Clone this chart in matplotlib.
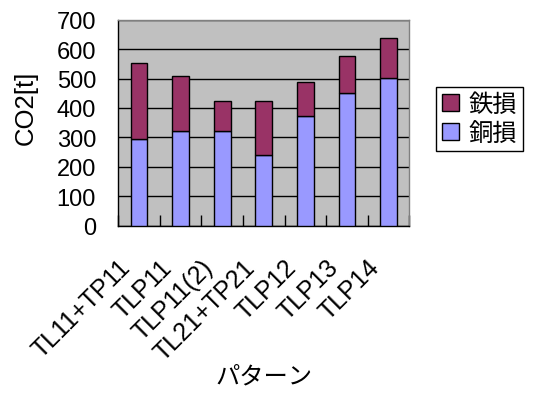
import matplotlib
matplotlib.use("Agg")
import matplotlib.pyplot as plt
import matplotlib.transforms as mtransforms
import numpy as np

plt.rcParams['font.family'] = ['Liberation Sans', 'Noto Sans CJK JP']

categories = ["TL11+TP11", "TLP11", "TLP11(2)", "TL21+TP21", "TLP12", "TLP13", "TLP14"]
copper_loss = [295, 323, 323, 239, 372, 450, 503]   # 銅損
iron_loss = [257, 187, 100, 184, 117, 126, 135]      # 鉄損
yticks = [0, 100, 200, 300, 400, 500, 600, 700]

fig = plt.figure(figsize=(5.39, 4.06), dpi=100)
ax = fig.add_axes([0.2195, 0.4416, 0.5399, 0.5074])
ax.set_facecolor('#C0C0C0')

x = np.arange(len(categories))
ax.bar(x, copper_loss, width=0.4, color='#9999FF', edgecolor='black', linewidth=1.0,
       label='銅損', zorder=3)
ax.bar(x, iron_loss, width=0.4, bottom=copper_loss, color='#993366', edgecolor='black',
       linewidth=1.0, label='鉄損', zorder=3)

ax.set_xlim(-0.5, len(categories) - 0.5)
ax.set_ylim(0, 700)
ax.set_yticks(yticks)
ax.set_yticklabels([str(v) for v in yticks], fontsize=17)
ax.yaxis.grid(True, color='black', linewidth=1.0, zorder=1)
ax.set_axisbelow(True)

# category ticks at boundaries between bars
ax.set_xticks(np.arange(len(categories) + 1) - 0.5, minor=False)
ax.tick_params(axis='x', which='major', direction='in', length=8, width=1, labelbottom=False)
ax.set_xticks(x, minor=True)
ax.set_xticklabels(categories, minor=True, rotation=45, ha='right', va='top',
                   rotation_mode='anchor', fontsize=18)
ax.tick_params(axis='x', which='minor', length=0, pad=21)
offset = mtransforms.ScaledTranslation(-21 / 100, 0, fig.dpi_scale_trans)
for lbl in ax.get_xticklabels(minor=True):
    lbl.set_transform(lbl.get_transform() + offset)

ax.tick_params(axis='y', direction='in', length=0, pad=16)

for side in ['top', 'right']:
    ax.spines[side].set_color('#808080')
    ax.spines[side].set_linewidth(1.0)
for side in ['left', 'bottom']:
    ax.spines[side].set_color('black')
    ax.spines[side].set_linewidth(1.0)

fig.text(26 / 539, 1 - 108 / 406, 'CO2[t]', rotation=90, ha='center', va='center',
         fontsize=18.5)
fig.text(264 / 539, 1 - 378 / 406, 'パターン', ha='center', va='center', fontsize=17.5)

handles, labels = ax.get_legend_handles_labels()
leg = fig.legend(handles[::-1], labels[::-1], loc='upper left',
                 bbox_to_anchor=(436 / 539, 1 - 88 / 406), fontsize=17.5,
                 frameon=True, fancybox=False, edgecolor='black', framealpha=1,
                 handlelength=0.7, handleheight=0.7, handletextpad=0.4,
                 borderpad=0.25, labelspacing=0.25, borderaxespad=0)
leg.get_frame().set_linewidth(1.0)

fig.savefig('out.png', dpi=100, facecolor='white')
